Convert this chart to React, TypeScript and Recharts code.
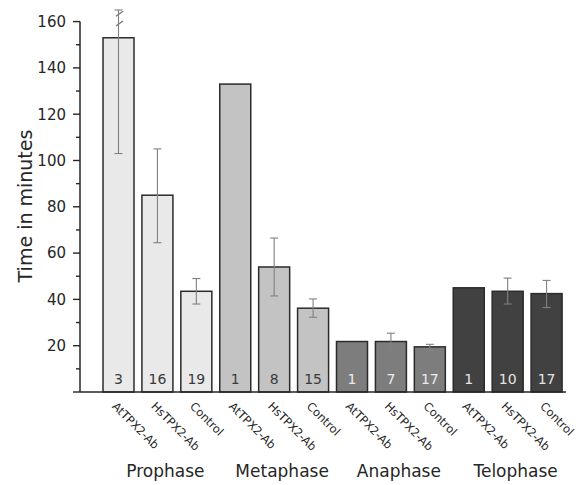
import { BarChart, Bar, XAxis, YAxis, ErrorBar, LabelList, Cell, ReferenceLine } from 'recharts'

const phases = ['Prophase', 'Metaphase', 'Anaphase', 'Telophase']
const treatments = ['AtTPX2-Ab', 'HsTPX2-Ab', 'Control']

// mean time per bar, in phase order, 3 treatments each
const means = [153, 85, 43.5, 133, 54, 36.2, 21.8, 21.8, 19.5, 45, 43.5, 42.5]
const errLow = [103, 64.5, 38, null, 41.5, 32.3, null, 18.2, 18, null, 38, 36.5]
const errHigh = [165, 105, 49, null, 66.5, 40.2, null, 25.4, 20.6, null, 49.2, 48.2]
const counts = [3, 16, 19, 1, 8, 15, 1, 7, 17, 1, 10, 17]
const yTicks = [0, 10, 20, 30, 40, 50, 60, 70, 80, 90, 100, 110, 120, 130, 140, 150, 160]

// the first error bar is cut, with break marks at these values
const brokenIndex = 0
const breakValues = [163.4, 159.2]

const phaseFills = ['#e9e9e9', '#c3c3c3', '#7d7d7d', '#414141']
const phaseText = ['#3a3a3a', '#3a3a3a', '#ececec', '#e4e4e4']

const FONT = '"DejaVu Sans", Verdana, sans-serif'
const INK = '#262626'

const data = means.map((mean, i) => ({
  treatment: treatments[i % 3],
  phase: phases[Math.floor(i / 3)],
  mean,
  count: counts[i],
  err: errLow[i] == null ? null : [mean - (errLow[i] as number), (errHigh[i] as number) - mean],
}))

function BarShape(props: any) {
  const { x, y, width, height, fill, index, mean } = props
  const perUnit = height / mean
  return (
    <g>
      <rect x={x} y={y} width={width} height={height} fill={fill} stroke="#2b2b2b" strokeWidth={1.5} />
      {index === brokenIndex &&
        breakValues.map((v) => {
          const by = y - (v - mean) * perUnit
          const cx = x + width / 2 + 1
          return <line key={v} x1={cx - 3.5} y1={by + 2.5} x2={cx + 3.5} y2={by - 2.5} stroke="#777" strokeWidth={1.3} />
        })}
    </g>
  )
}

function TreatmentTick(props: any) {
  const { x, y, payload, index } = props
  const tx = x - 7
  const ty = y + 15
  return (
    <g>
      <text x={tx} y={ty} transform={`rotate(45 ${tx} ${ty})`} fontSize={11.5} fill={INK} fontFamily={FONT}>
        {payload.value}
      </text>
      {index % 3 === 1 && (
        <text x={x + 8} y={y + 85} textAnchor="middle" fontSize={17} fill={INK} fontFamily={FONT}>
          {phases[Math.floor(index / 3)]}
        </text>
      )}
    </g>
  )
}

function ValueTick(props: any) {
  const { x, y, payload } = props
  const v = payload.value
  const major = v % 20 === 0
  return (
    <g>
      <line x1={x - (major ? 7 : 4)} x2={x} y1={y} y2={y} stroke={INK} strokeWidth={1.4} />
      {major && v > 0 && (
        <text x={x - 14} y={y} dy="0.36em" textAnchor="end" fontSize={15} fill={INK} fontFamily={FONT}>
          {v}
        </text>
      )}
    </g>
  )
}

function YLabel(props: any) {
  const { viewBox } = props
  const cx = viewBox.x + 25
  const cy = viewBox.y + viewBox.height / 2 + 5
  return (
    <text
      x={cx}
      y={cy}
      transform={`rotate(-90 ${cx} ${cy})`}
      textAnchor="middle"
      dominantBaseline="central"
      fontSize={19}
      fill={INK}
      fontFamily={FONT}
    >
      Time in minutes
    </text>
  )
}

function CountLabel(props: any) {
  const { x, y, width, height, value, index } = props
  return (
    <text
      x={x + width / 2}
      y={y + height - 8}
      textAnchor="middle"
      fontSize={14}
      fill={phaseText[Math.floor(index / 3)]}
      fontFamily={FONT}
    >
      {value}
    </text>
  )
}

export default function App() {
  return (
    <div style={{ position: 'absolute', left: 0, top: 0, background: '#fff' }}>
      <BarChart width={578} height={485} data={data} margin={{ top: 10, right: 12, bottom: 63, left: 0 }}>
        <XAxis
          dataKey="treatment"
          height={30}
          interval={0}
          padding={{ left: 19, right: 0 }}
          tickSize={0}
          tickMargin={0}
          tickLine={false}
          axisLine={{ stroke: INK, strokeWidth: 1.5 }}
          tick={<TreatmentTick />}
        />
        <XAxis xAxisId="edge" type="number" domain={[0, 1]} hide />
        <YAxis
          width={80}
          domain={[0, 165]}
          ticks={yTicks}
          interval={0}
          tickSize={0}
          tickMargin={0}
          tickLine={false}
          axisLine={false}
          tick={<ValueTick />}
          label={<YLabel />}
        />
        <ReferenceLine
          xAxisId="edge"
          segment={[
            { x: 0, y: 0 },
            { x: 0, y: 160 },
          ]}
          stroke={INK}
          strokeWidth={1.5}
        />
        <Bar dataKey="mean" barSize={31} isAnimationActive={false} shape={<BarShape />}>
          {data.map((d, i) => (
            <Cell key={i} fill={phaseFills[Math.floor(i / 3)]} />
          ))}
          <ErrorBar dataKey="err" width={4} stroke="#808080" strokeWidth={1.1} direction="y" />
          <LabelList dataKey="count" content={<CountLabel />} />
        </Bar>
      </BarChart>
    </div>
  )
}
